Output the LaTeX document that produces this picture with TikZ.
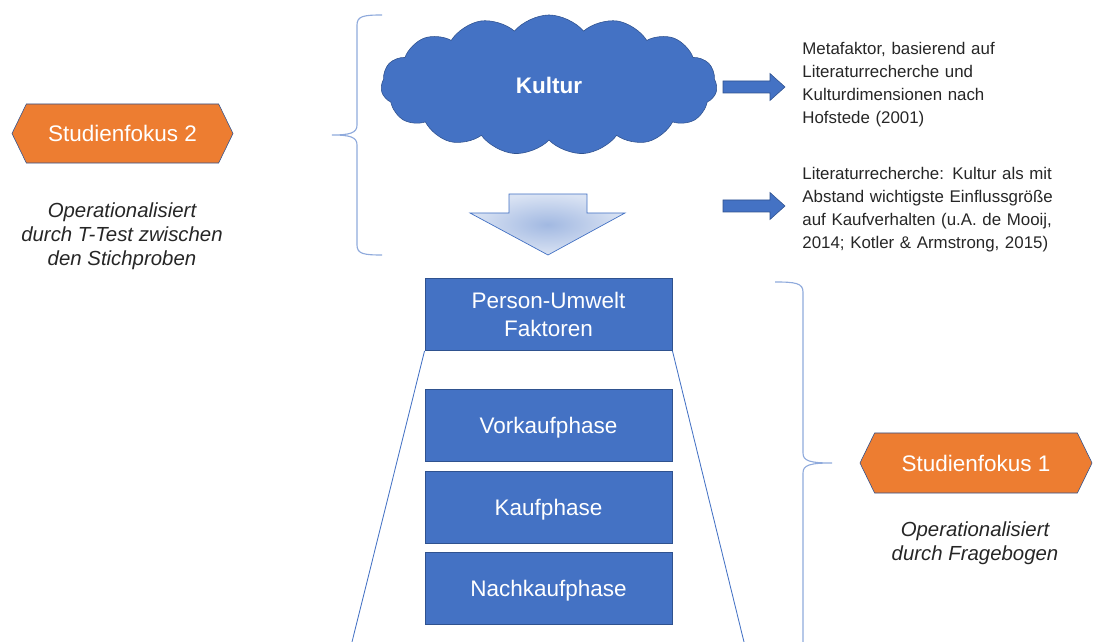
\documentclass[tikz,border=0pt]{standalone}
\usepackage{fontspec}
\setmainfont{Liberation Sans}
\usetikzlibrary{shapes.symbols}
\definecolor{ppblue}{HTML}{4472C4}
\definecolor{ppdark}{HTML}{2F528F}
\definecolor{pporange}{HTML}{ED7D31}
\definecolor{ppbrace}{HTML}{8FAADC}
\definecolor{pptext}{HTML}{262626}
\begin{document}
\begin{tikzpicture}[x=0.025cm,y=-0.025cm,line width=0.6pt,
	phase/.style={draw=ppdark,fill=ppblue,text=white,minimum width=6.175cm,minimum height=1.8cm,inner sep=0pt,text depth=0pt,align=center,font=\fontsize{16}{20}\selectfont},
	fokus/.style={signal,signal to=east and west,signal pointer angle=128,draw=ppdark,line width=0.4pt,fill=pporange,text=white,inner sep=0pt,font=\fontsize{16}{20}\selectfont},
	opnote/.style={align=center,text=pptext,font=\fontsize{14.5}{17}\selectfont\itshape},
	litnote/.style={anchor=north west,inner sep=0pt,text width=6.4cm,align=left,text=pptext,font=\fontsize{12}{16.3}\selectfont},
	brace/.style={draw=ppbrace,line width=0.8pt},
	blockarrow/.style={fill=ppblue,draw=ppdark,line width=0.4pt}]
	\useasboundingbox (0,0) rectangle (1094,642);
	\clip (0,0) rectangle (1094,642);
	% Kultur und Pfeil nach unten
	\node[cloud,cloud puffs=15,cloud puff arc=100,aspect=2.4,draw=ppdark,line width=0.4pt,fill=ppblue,minimum width=8.4cm,minimum height=3.5cm,text=white,font=\fontsize{16}{20}\selectfont\bfseries] (kultur) at (549,85) {Kultur};
	\shadedraw[draw=ppblue,line width=0.5pt,inner color=ppblue!50,outer color=ppblue!20] (509,194)--(587,194)--(587,213)--(625,213)--(548,255)--(470,213)--(509,213)--cycle;
	\foreach \ay in {87,206}
		\draw[blockarrow] (723,{\ay-6})--(770,{\ay-6})--(770,{\ay-13.5})--(785,\ay)--(770,{\ay+13.5})--(770,{\ay+6})--(723,{\ay+6})--cycle;
	\node[litnote] (meta) at (802,42) {Metafaktor, basierend auf\\Literaturrecherche und\\Kulturdimensionen nach\\Hofstede (2001)};
	\node[litnote] (lit) at (802,167) {\makebox[\linewidth][s]{Literaturrecherche: Kultur als mit}\\\makebox[\linewidth][s]{Abstand wichtigste Einflussgröße}\\\makebox[\linewidth][s]{auf Kaufverhalten (u.A. de Mooij,}\\\makebox[\linewidth][s]{2014; Kotler \& Armstrong, 2015)}};
	% Phasen
	\node[phase] (pu) at (548.5,314.5) {Person-Umwelt\\Faktoren};
	\node[phase] (vork) at (548.5,425.5) {Vorkaufphase};
	\node[phase] (kauf) at (548.5,507) {Kaufphase};
	\node[phase] (nach) at (548.5,588) {Nachkaufphase};
	\coordinate (fl) at (352,642);
	\coordinate (fr) at (744,642);
	\draw[ppblue] (pu.south west)--(fl) (pu.south east)--(fr);
	% Klammern
	\draw[brace] (382,15) .. controls (364,15) and (357,16) .. (357,25)--(357,125) .. controls (357,133) and (350,135) .. (332,135) .. controls (350,135) and (357,137) .. (357,145)--(357,245) .. controls (357,254) and (364,255) .. (382,255);
	\draw[brace] (775,282) .. controls (795,282) and (803,283) .. (803,292)--(803,453) .. controls (803,461) and (810,463) .. (832,463) .. controls (810,463) and (803,465) .. (803,473)--(803,650);
	% Studienfokus
	\node[fokus,minimum width=5.525cm,minimum height=1.475cm] (fokus2) at (122.5,133.5) {Studienfokus 2};
	\node[opnote] (op2) at (122,236) {Operationalisiert\\durch T-Test zwischen\\den Stichproben};
	\node[fokus,minimum width=5.8cm,minimum height=1.5cm] (fokus1) at (976,463) {Studienfokus 1};
	\node[opnote] (op1) at (975,543.5) {Operationalisiert\\durch Fragebogen};
\end{tikzpicture}
\end{document}
